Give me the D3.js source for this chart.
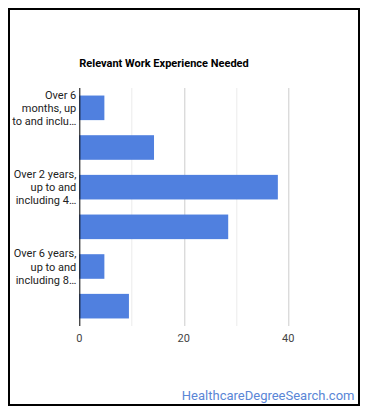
<!DOCTYPE html>
<meta charset="utf-8">
<style>
    body { margin: 0; background: #fff; }
    svg text { font-family: Roboto, Arial, sans-serif; }
    .grid line { stroke: #ccc; }
    .grid line.minor { stroke: #ebebeb; }
</style>
<svg width="370" height="417"></svg>
<script src="https://d3js.org/d3.v7.min.js"></script>
<script>
    // experience levels (full names) and share of workers, %
    var categories = [
        'Over 6 months, up to and including 1 year',
        'Over 1 year, up to and including 2 years',
        'Over 2 years, up to and including 4 years',
        'Over 4 years, up to and including 6 years',
        'Over 6 years, up to and including 8 years',
        'Over 8 years, up to and including 10 years'
    ];
    var values = [4.8, 14.3, 38.0, 28.5, 4.8, 9.5];

    // only every other label is shown, wrapped and cut like the original
    var tickLabels = [
        ['Over 6', 'months, up', 'to and inclu\u2026'],
        null,
        ['Over 2 years,', 'up to and', 'including 4\u2026'],
        null,
        ['Over 6 years,', 'up to and', 'including 8\u2026'],
        null
    ];
    var xTicks = [0, 20, 40];
    var gridTicks = [10, 20, 30, 40];

    var svg = d3.select('svg');
    var margin = {top: 88, left: 79.3, right: 81.7, bottom: 91};
    var width = 370 - margin.left - margin.right,
        height = 417 - margin.top - margin.bottom;

    // outer frame
    svg.append('rect')
        .attr('x', 9).attr('y', 9)
        .attr('width', 350).attr('height', 396)
        .attr('fill', 'none')
        .attr('stroke', '#000')
        .attr('stroke-width', 2);

    svg.append('text')
        .attr('x', margin.left)
        .attr('y', 67)
        .attr('font-size', 11)
        .attr('font-weight', 'bold')
        .attr('fill', '#000')
        .text('Relevant Work Experience Needed');

    var x = d3.scaleLinear().domain([0, 40]).range([0, width]);
    var y = d3.scaleBand().domain(categories).range([0, height])
        .paddingInner(0.38).paddingOuter(0.19);

    var g = svg.append('g')
        .attr('transform', 'translate(' + margin.left + ',' + margin.top + ')');

    g.append('g').attr('class', 'grid')
        .selectAll('line')
        .data(gridTicks)
        .enter().append('line')
        .attr('class', d => d % 20 ? 'minor' : null)
        .attr('x1', d => Math.round(x(d)) + 0.5)
        .attr('x2', d => Math.round(x(d)) + 0.5)
        .attr('y1', 0)
        .attr('y2', height);

    g.selectAll('.bar')
        .data(values)
        .enter().append('rect')
        .attr('class', 'bar')
        .attr('fill', '#5080df')
        .attr('x', 0)
        .attr('y', (d, i) => y(categories[i]))
        .attr('width', d => x(d))
        .attr('height', y.bandwidth());

    // baseline axis
    g.append('line')
        .attr('x1', 0.5).attr('x2', 0.5)
        .attr('y1', 0).attr('y2', height)
        .attr('stroke', '#000');

    // x tick labels
    g.selectAll('.xtick')
        .data(xTicks)
        .enter().append('text')
        .attr('class', 'xtick')
        .attr('x', d => x(d))
        .attr('y', height + 16)
        .attr('text-anchor', 'middle')
        .attr('font-size', 11)
        .attr('fill', '#444')
        .text(d => d);

    // category labels, three lines centred on the bar
    categories.forEach(function (c, i) {
        var lines = tickLabels[i];
        if (!lines) return;
        var cy = y(c) + y.bandwidth() / 2;
        var t = g.append('text')
            .attr('text-anchor', 'end')
            .attr('font-size', 11)
            .attr('fill', '#222');
        lines.forEach(function (s, k) {
            t.append('tspan')
                .attr('x', -3)
                .attr('y', cy + 4 + (k - 1) * 13.3)
                .text(s);
        });
    });

    svg.append('text')
        .attr('x', 354.5)
        .attr('y', 400)
        .attr('text-anchor', 'end')
        .attr('font-size', 13)
        .attr('fill', '#5a86d6')
        .text('HealthcareDegreeSearch.com');
</script>
